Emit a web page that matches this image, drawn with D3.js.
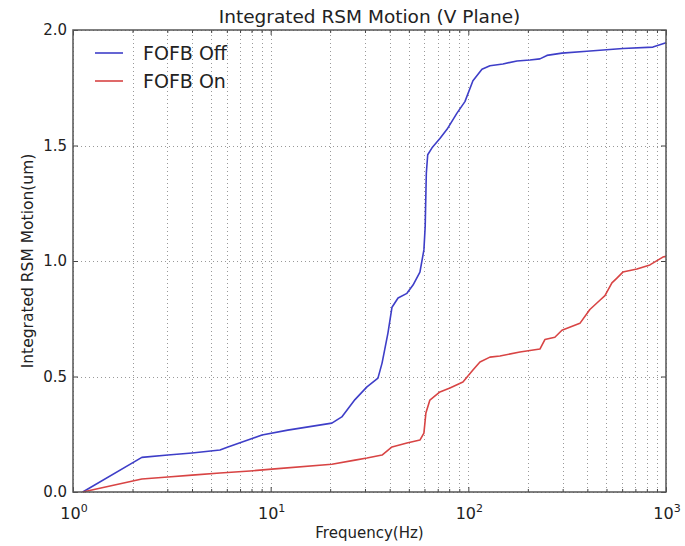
<!DOCTYPE html>
<html><head><meta charset="utf-8">
<script src="https://cdn.jsdelivr.net/npm/d3@7"></script>
<style>body{margin:0;background:#fff}svg{display:block}</style>
</head><body>
<script>
const title = "Integrated RSM Motion (V Plane)";
const xLabel = "Frequency(Hz)";
const yLabel = "Integrated RSM Motion(um)";
const seriesNames = ["FOFB Off", "FOFB On"];
const xDecades = [1, 10, 100, 1000];
const yTicks = [0.0, 0.5, 1.0, 1.5, 2.0];

const offFreq = [1.12,2.23,3.02,4.0,5.54,6.08,7.86,9.04,12.2,20.4,22.9,26.7,30.7,34.9,36.6,39.2,41.1,44.1,48.9,52.5,56.9,59.6,60.5,61.3,62.3,65.5,71.8,78.0,87.6,96.1,105.5,117.2,128.6,149.6,176.2,204.9,230.2,249.8,297.5,398,605,858.6,1000];
const offVal = [0,0.15,0.16,0.169,0.182,0.195,0.228,0.247,0.268,0.298,0.325,0.40,0.455,0.493,0.558,0.688,0.80,0.84,0.86,0.896,0.952,1.048,1.15,1.38,1.46,1.49,1.53,1.57,1.64,1.69,1.78,1.83,1.845,1.853,1.866,1.87,1.875,1.89,1.90,1.908,1.92,1.926,1.945];

const onFreq = [1.12,2.23,3.02,4.0,5.54,7.86,10.5,20.4,26.7,30.7,36.6,41.1,48.9,56.9,59.6,61.0,63.9,71.8,80.7,93.9,105.5,114.5,128.6,144.5,182.4,230.2,243.9,274,297.5,366.8,412,463,491,532.6,564.5,605,712.8,829,964,1000];
const onVal = [0,0.056,0.065,0.073,0.082,0.091,0.10,0.12,0.138,0.147,0.16,0.195,0.212,0.225,0.255,0.342,0.398,0.433,0.45,0.476,0.528,0.563,0.584,0.589,0.606,0.619,0.66,0.67,0.70,0.73,0.79,0.83,0.85,0.905,0.926,0.952,0.965,0.983,1.017,1.02];

const W = 685, H = 546;
const m = {left:73, right:19, top:30, bottom:54};
const font = "DejaVu Sans, sans-serif";
const svg = d3.select("body").append("svg").attr("width", W).attr("height", H);

const x = d3.scaleLog().domain([1, 1000]).range([m.left, W - m.right]);
const y = d3.scaleLinear().domain([0, 2]).range([H - m.bottom, m.top]);

const minorX = [];
xDecades.slice(0, -1).forEach(d => { for (let k = 2; k <= 9; k++) minorX.push(d * k); });

const grid = svg.append("g").attr("stroke", "#999").attr("stroke-width", 1).attr("stroke-dasharray", "1,3");
xDecades.concat(minorX).forEach(v => {
  grid.append("line").attr("x1", Math.round(x(v)) + 0.5).attr("x2", Math.round(x(v)) + 0.5)
    .attr("y1", y(0)).attr("y2", y(2));
});
yTicks.forEach(v => {
  grid.append("line").attr("y1", Math.round(y(v)) + 0.5).attr("y2", Math.round(y(v)) + 0.5)
    .attr("x1", x(1)).attr("x2", x(1000));
});

const line = d3.line().x(d => x(d[0])).y(d => y(d[1])).curve(d3.curveLinear);
const colors = ["#3e3ec8", "#d84444"];
svg.append("path").datum(offFreq.map((f, i) => [f, offVal[i]]))
  .attr("fill", "none").attr("stroke", colors[0]).attr("stroke-width", 1.6).attr("stroke-linejoin", "round").attr("d", line);
svg.append("path").datum(onFreq.map((f, i) => [f, onVal[i]]))
  .attr("fill", "none").attr("stroke", colors[1]).attr("stroke-width", 1.6).attr("stroke-linejoin", "round").attr("d", line);

// axes with inward ticks
const tickCol = "#444";
const axB = d3.axisBottom(x).tickValues(xDecades).tickSizeInner(-5).tickSizeOuter(0).tickFormat("");
const axT = d3.axisTop(x).tickValues(xDecades).tickSizeInner(-5).tickSizeOuter(0).tickFormat("");
const axBm = d3.axisBottom(x).tickValues(minorX).tickSizeInner(-3).tickSizeOuter(0).tickFormat("");
const axTm = d3.axisTop(x).tickValues(minorX).tickSizeInner(-3).tickSizeOuter(0).tickFormat("");
const axL = d3.axisLeft(y).tickValues(yTicks).tickSizeInner(-5).tickSizeOuter(0).tickFormat("");
const axR = d3.axisRight(y).tickValues(yTicks).tickSizeInner(-5).tickSizeOuter(0).tickFormat("");
[[axB, `translate(0,${y(0)})`], [axBm, `translate(0,${y(0)})`], [axT, `translate(0,${y(2)})`], [axTm, `translate(0,${y(2)})`],
 [axL, `translate(${x(1)},0)`], [axR, `translate(${x(1000)},0)`]].forEach(([a, t]) => {
  const g = svg.append("g").attr("transform", t).call(a);
  g.select(".domain").remove();
  g.selectAll("line").attr("stroke", tickCol);
});

svg.append("rect").attr("x", x(1)).attr("y", y(2)).attr("width", x(1000) - x(1)).attr("height", y(0) - y(2))
  .attr("fill", "none").attr("stroke", "#555").attr("stroke-width", 1.5);

// tick labels
const tl = svg.append("g").attr("font-family", font).attr("fill", "#222");
yTicks.forEach(v => {
  tl.append("text").attr("x", x(1) - 6).attr("y", y(v)).attr("dy", "0.35em").attr("text-anchor", "end")
    .attr("font-size", 15).text(v.toFixed(1));
});
xDecades.forEach(v => {
  const t = tl.append("text").attr("x", x(v) + 1).attr("y", y(0) + 27).attr("text-anchor", "middle").attr("font-size", 16);
  t.append("tspan").text("10");
  t.append("tspan").attr("dy", -7).attr("font-size", 11).text(String(Math.round(Math.log10(v))));
});

svg.append("text").attr("x", (x(1) + x(1000)) / 2).attr("y", 23).attr("text-anchor", "middle")
  .attr("font-family", font).attr("font-size", 18.5).attr("fill", "#222").text(title);
svg.append("text").attr("x", (x(1) + x(1000)) / 2).attr("y", 538).attr("text-anchor", "middle")
  .attr("font-family", font).attr("font-size", 15).attr("fill", "#222").text(xLabel);
svg.append("text").attr("transform", `translate(33,${(y(0) + y(2)) / 2}) rotate(-90)`).attr("text-anchor", "middle")
  .attr("font-family", font).attr("font-size", 15.5).attr("fill", "#222").text(yLabel);

// legend
const lg = svg.append("g");
seriesNames.forEach((n, i) => {
  const yy = 53 + i * 28;
  lg.append("line").attr("x1", 95).attr("x2", 123).attr("y1", yy).attr("y2", yy).attr("stroke", colors[i]).attr("stroke-width", 1.6);
  lg.append("text").attr("x", 143).attr("y", yy).attr("dy", "0.35em").attr("font-family", font).attr("font-size", 19)
    .attr("fill", "#222").text(n);
});
</script>
</body></html>
